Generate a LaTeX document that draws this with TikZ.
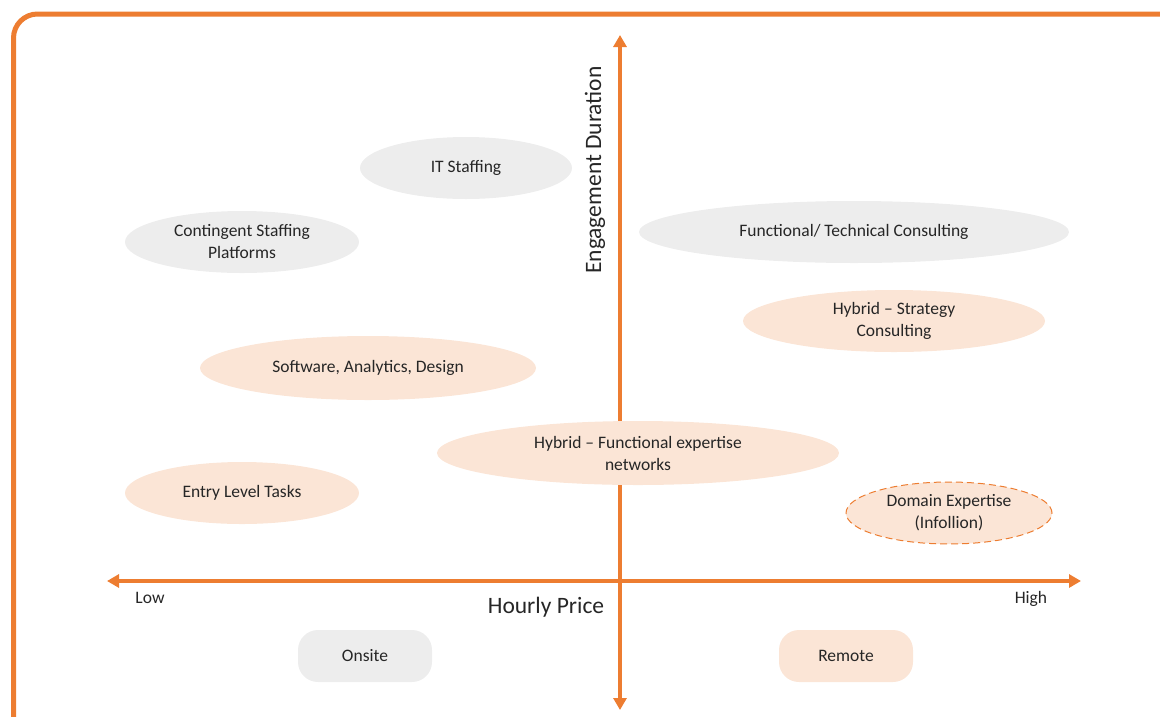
\documentclass[tikz,border=0pt]{standalone}
\usepackage{fontspec}
\setmainfont{Carlito}
\usetikzlibrary{shapes.geometric}
\usetikzlibrary{arrows.meta}
\usetikzlibrary{positioning}
\definecolor{orng}{HTML}{ED7D31}
\definecolor{greyfill}{HTML}{EDEDED}
\definecolor{peach}{HTML}{FBE5D6}
\definecolor{txt}{HTML}{262626}
\tikzstyle{greyell} = [ellipse, inner sep=0pt, minimum height=62pt, text centered, align=center, fill=greyfill, text=txt]
\tikzstyle{peachell} = [ellipse, inner sep=0pt, minimum height=62pt, text centered, align=center, fill=peach, text=txt]
\tikzstyle{legendbox} = [rectangle, rounded corners=20pt, minimum width=134pt, minimum height=52pt, text centered, text=txt]
\tikzstyle{axis} = [orng, line width=3.5pt, {Triangle[length=12pt,width=13pt]}-{Triangle[length=12pt,width=13pt]}]
\tikzstyle{axislabel} = [font=\fontsize{23.5}{28}\selectfont, text=txt]

\begin{document}
\begin{tikzpicture}[x=1pt, y=-1pt, font=\fontsize{17.5}{22}\selectfont]
        \useasboundingbox (0,0) rectangle (1160,716);
        \begin{scope}
            \clip (0,0) rectangle (1160,716);
            \draw [orng, line width=5pt, rounded corners=24pt] (13.5,14) rectangle (1190,745);
        \end{scope}

        % axes
        \coordinate (top) at (620,35);
        \coordinate (bottom) at (620,710);
        \coordinate (left) at (107,581);
        \coordinate (right) at (1081,581);
        \draw [axis] (bottom) -- (top);
        \draw [axis] (left) -- (right);

        \node (duration) [axislabel, rotate=90] at (595,170) {Engagement Duration};
        \node (price) [axislabel] at (546,607) {Hourly Price};
        \node (low) [text=txt] at (150,598) {Low};
        \node (high) [text=txt] at (1031,599) {High};

        % segments
        \node (itstaff) [greyell, minimum width=212pt] at (466,168) {IT Staffing};
        \node (contingent) [greyell, minimum width=234pt] at (242,242) {Contingent Staffing\\Platforms};
        \node (functech) [greyell, minimum width=430pt] at (854,232) {Functional/ Technical Consulting};
        \node (strategy) [peachell, minimum width=302pt] at (894,321) {Hybrid -- Strategy\\Consulting};
        \node (software) [peachell, minimum width=336pt, minimum height=64pt] at (368,368) {Software, Analytics, Design};
        \node (networks) [peachell, minimum width=402pt, minimum height=64pt] at (638,453) {Hybrid -- Functional expertise\\networks};
        \node (entry) [peachell, minimum width=234pt] at (242,493) {Entry Level Tasks};
        \node (domain) [peachell, minimum width=206pt, draw=orng, dashed, dash pattern=on 7pt off 4pt, line width=1pt] at (949,513) {Domain Expertise\\(Infollion)};

        % legend
        \node (onsite) [legendbox, fill=greyfill] at (365,656) {Onsite};
        \node (remote) [legendbox, fill=peach] at (846,656) {Remote};

    \end{tikzpicture}
\end{document}
